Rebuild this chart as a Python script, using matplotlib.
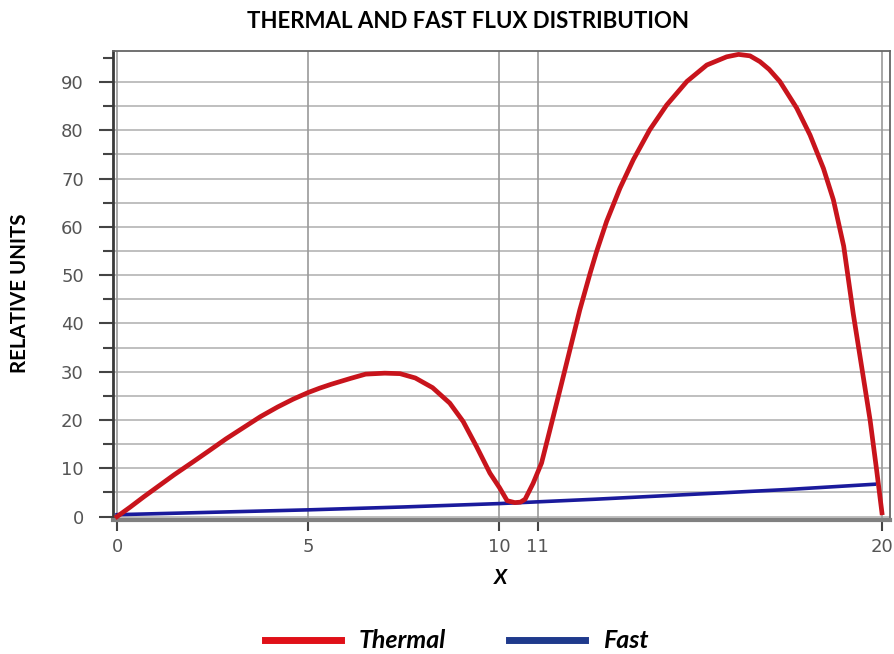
import matplotlib
matplotlib.use('Agg')
import matplotlib.pyplot as plt
from matplotlib.lines import Line2D
from matplotlib.ticker import MultipleLocator, FixedLocator

# Flux values along X (relative units)
thermal_x = [0.0, 0.35, 0.7, 1.1, 1.5, 2.0, 2.4, 2.85, 3.3, 3.75, 4.2, 4.6, 5.0,
             5.3, 5.6, 6.1, 6.5, 7.0, 7.4, 7.8, 8.25, 8.7, 9.05, 9.4, 9.75, 10.0,
             10.2, 10.4, 10.55, 10.67, 10.88, 11.1, 11.32, 11.58, 11.84, 12.1,
             12.37, 12.54, 12.8, 13.15, 13.5, 13.93, 14.37, 14.9, 15.42, 15.94,
             16.25, 16.55, 16.81, 17.05, 17.33, 17.77, 18.12, 18.47, 18.73, 19.0,
             19.25, 19.47, 19.69, 19.86, 20.0]
thermal_y = [0.0, 2.0, 4.1, 6.4, 8.7, 11.4, 13.6, 16.1, 18.4, 20.7, 22.7, 24.3,
             25.7, 26.6, 27.4, 28.6, 29.5, 29.7, 29.6, 28.7, 26.7, 23.5, 19.7,
             14.5, 9.0, 6.0, 3.3, 2.9, 3.0, 3.6, 6.9, 11.1, 18.0, 26.2, 34.5,
             42.8, 50.4, 54.9, 61.1, 68.0, 73.9, 80.1, 85.2, 90.1, 93.5, 95.2,
             95.7, 95.4, 94.2, 92.6, 90.1, 84.6, 79.0, 72.1, 65.6, 56.0, 42.0,
             31.0, 20.0, 9.7, 0.8]

fast_x = [0, 2.5, 5, 7.5, 10, 12.5, 15, 17.5, 19.8]
fast_y = [0.4, 0.9, 1.4, 2.0, 2.7, 3.6, 4.6, 5.6, 6.7]

x_ticks = [0, 5, 10, 11, 20]
y_ticks = [0, 10, 20, 30, 40, 50, 60, 70, 80, 90]

fig = plt.figure(figsize=(8.94, 6.54), dpi=100)
fig.patch.set_facecolor('white')
ax = fig.add_axes([0.1264, 0.2049, 0.8691, 0.7171])

# grid lines
for yv in range(0, 95, 5):
    ax.axhline(yv, color='#b4b4b4', lw=1.2, zorder=1)
for xv in x_ticks:
    ax.axvline(xv, color='#9a9a9a', lw=1.2, zorder=1)

ax.plot(fast_x, fast_y, color='#1a1a9c', lw=2.6, zorder=3)
ax.plot(thermal_x, thermal_y, color='#c8141c', lw=3.4, zorder=4,
        solid_joinstyle='round')

ax.set_xlim(-0.105, 20.21)
ax.set_ylim(-0.7, 96.4)

ax.xaxis.set_major_locator(FixedLocator(x_ticks))
ax.yaxis.set_major_locator(FixedLocator(y_ticks))
ax.yaxis.set_minor_locator(MultipleLocator(5))
ax.tick_params(axis='y', which='major', length=10, width=1.5, color='#444444',
               labelsize=13, labelcolor='#555555', pad=11)
ax.tick_params(axis='y', which='minor', length=7, width=1.5, color='#444444')
ax.tick_params(axis='x', which='major', length=8, width=1.5, color='#444444',
               labelsize=13, labelcolor='#555555', pad=5)

ax.spines['left'].set_color('#3a3a3a')
ax.spines['left'].set_linewidth(2)
ax.spines['bottom'].set_color('#808080')
ax.spines['bottom'].set_linewidth(3)
ax.spines['top'].set_color('#666666')
ax.spines['top'].set_linewidth(1.3)
ax.spines['right'].set_color('#666666')
ax.spines['right'].set_linewidth(1.3)

fig.text(0.5235, 1 - 22 / 654, 'THERMAL AND FAST FLUX DISTRIBUTION',
         family='Lato', weight='bold', fontsize=16, ha='center', va='center')
fig.text(20 / 894, 1 - 293 / 654, 'RELATIVE UNITS', family='Lato',
         weight='bold', fontsize=14.8, rotation=90, ha='center', va='center')
fig.text(500 / 894, 1 - 578 / 654, 'X', family='Lato', weight='bold',
         style='italic', fontsize=15, ha='center', va='center')

handles = [Line2D([], [], color='#e01018', lw=5),
           Line2D([], [], color='#1f3a8c', lw=5)]
fig.legend(handles, ['Thermal', 'Fast'], loc='center',
           bbox_to_anchor=(0.5106, 1 - 641 / 654), ncol=2, frameon=False,
           handlelength=3.05, handletextpad=0.72, columnspacing=2.5,
           borderpad=0.1,
           prop={'family': 'Lato', 'weight': 'bold', 'style': 'italic',
                 'size': 18})

fig.savefig('out.png', dpi=100, facecolor='white')
